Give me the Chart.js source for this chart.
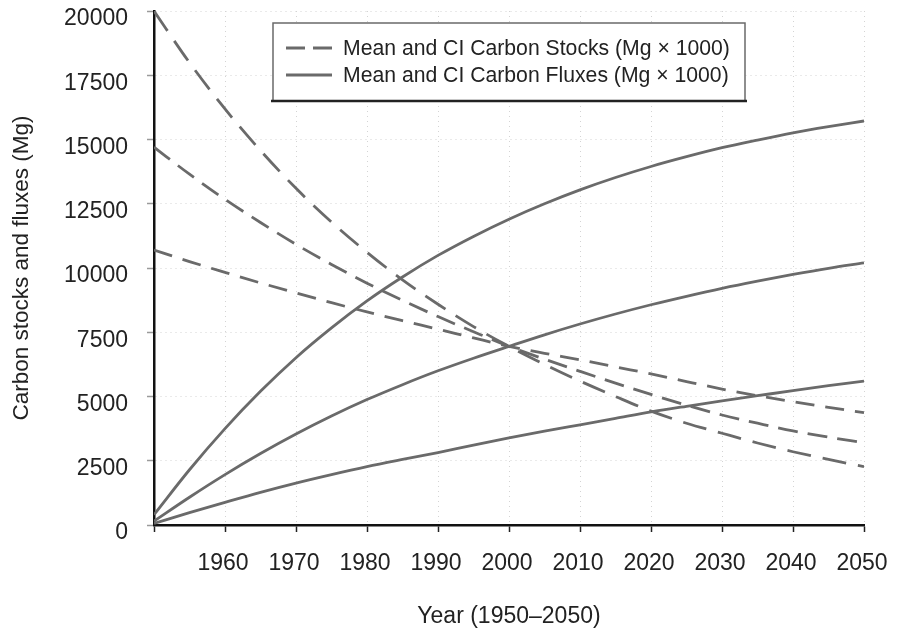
<!DOCTYPE html>
<html>
<head>
<meta charset="utf-8">
<script src="https://cdn.jsdelivr.net/npm/chart.js@4/dist/chart.umd.min.js"></script>
<style>
  html, body { margin: 0; padding: 0; background: #ffffff; }
  #wrap { width: 898px; height: 635px; }
</style>
</head>
<body>
<div id="wrap"><canvas id="c" width="898" height="635"></canvas></div>
<script>
// ---- Data ----
const years = [1950, 1955, 1960, 1965, 1970, 1975, 1980, 1985, 1990, 1995, 2000,
               2005, 2010, 2015, 2020, 2025, 2030, 2035, 2040, 2045, 2050];

// Carbon stocks (dashed): upper CI, mean, lower CI
const stocksUpper = [20000, 17990, 16190, 14570, 13100, 11790, 10610, 9540, 8590, 7720, 6950,
                     6250, 5600, 5000, 4430, 3960, 3570, 3190, 2850, 2550, 2270];
const stocksMean  = [14700, 13650, 12670, 11770, 10920, 10140, 9410, 8740, 8110, 7520, 6950,
                     6450, 5980, 5520, 5080, 4660, 4280, 3960, 3660, 3420, 3200];
const stocksLower = [10700, 10250, 9830, 9420, 9030, 8650, 8290, 7950, 7620, 7280, 6950,
                     6680, 6430, 6150, 5880, 5580, 5290, 5030, 4800, 4580, 4370];

// Carbon fluxes (solid): upper CI, mean, lower CI
const fluxesUpper = [400, 2150, 3750, 5200, 6510, 7670, 8720, 9650, 10490, 11230, 11900,
                     12500, 13040, 13520, 13950, 14330, 14680, 14980, 15260, 15500, 15720];
const fluxesMean  = [150, 1080, 1960, 2780, 3540, 4240, 4880, 5460, 6000, 6490, 6950,
                     7400, 7820, 8210, 8570, 8900, 9210, 9490, 9750, 9990, 10200];
const fluxesLower = [60, 480, 880, 1270, 1630, 1960, 2270, 2550, 2820, 3110, 3390,
                     3650, 3900, 4150, 4400, 4620, 4830, 5030, 5230, 5420, 5600];

const legendLabels = ['Mean and CI Carbon Stocks (Mg \u00d7 1000)',
                      'Mean and CI Carbon Fluxes (Mg \u00d7 1000)'];
const xTitle = 'Year (1950\u20132050)';
const yTitle = 'Carbon stocks and fluxes (Mg)';
const xMin = 1950, xMax = 2050, xStep = 10;
const yMin = 0, yMax = 20000, yStep = 2500;

// ---- Styles ----
const LINE_COLOR = '#6a6a6a';
const TEXT_COLOR = '#222222';
const FONT = "'Liberation Sans', Arial, Helvetica, sans-serif";

function pts(vals) { return years.map((yr, i) => ({ x: yr, y: vals[i] })); }

function ds(vals, dash, group) {
  return {
    data: pts(vals),
    borderColor: LINE_COLOR,
    borderWidth: 2.8,
    borderDash: dash,
    pointRadius: 0,
    fill: false,
    cubicInterpolationMode: 'monotone',
    group: group
  };
}

const datasets = [
  ds(stocksUpper, [24, 12], 0),
  ds(stocksMean,  [20, 10], 0),
  ds(stocksLower, [19, 11], 0),
  ds(fluxesUpper, [], 1),
  ds(fluxesMean,  [], 1),
  ds(fluxesLower, [], 1)
];

// Boxed legend drawn inside the plot area
const boxLegend = {
  id: 'boxLegend',
  afterDraw(chart) {
    const ctx = chart.ctx;
    const L = 273, T = 23, R = 745, B = 101;
    ctx.save();
    ctx.fillStyle = '#ffffff';
    ctx.fillRect(L, T, R - L, B - T);
    ctx.strokeStyle = '#6a6a6a';
    ctx.lineWidth = 1.5;
    ctx.beginPath();
    ctx.moveTo(L, B); ctx.lineTo(L, T); ctx.lineTo(R, T); ctx.lineTo(R, B);
    ctx.stroke();
    ctx.strokeStyle = '#222222';
    ctx.lineWidth = 2.5;
    ctx.beginPath();
    ctx.moveTo(L - 2, B); ctx.lineTo(R + 2, B);
    ctx.stroke();

    const rows = [48, 75];
    const sampleDash = [[19, 8], []];
    legendLabels.forEach((txt, i) => {
      const d = chart.data.datasets.find(s => s.group === i);
      ctx.strokeStyle = d.borderColor;
      ctx.lineWidth = d.borderWidth;
      ctx.setLineDash(sampleDash[i]);
      ctx.beginPath();
      ctx.moveTo(286, rows[i]);
      ctx.lineTo(332, rows[i]);
      ctx.stroke();
      ctx.setLineDash([]);
      ctx.fillStyle = TEXT_COLOR;
      ctx.font = "21.2px " + FONT;
      ctx.textBaseline = 'middle';
      ctx.textAlign = 'left';
      ctx.fillText(txt, 343, rows[i] + 1);
    });
    ctx.restore();
  }
};

new Chart(document.getElementById('c'), {
  type: 'line',
  data: { datasets },
  plugins: [boxLegend],
  options: {
    responsive: false,
    animation: false,
    devicePixelRatio: 1,
    layout: { padding: { left: 0, top: 11, right: 34, bottom: 0 } },
    plugins: { legend: { display: false }, tooltip: { enabled: false } },
    scales: {
      x: {
        type: 'linear',
        min: xMin, max: xMax,
        afterFit(s) { s.height = 110; s.paddingLeft = 0; s.paddingRight = 0; },
        ticks: {
          stepSize: xStep,
          autoSkip: false,
          maxRotation: 0,
          padding: 18,
          labelOffset: -2,
          color: TEXT_COLOR,
          font: { family: FONT, size: 23 },
          callback: v => (v === xMin ? '' : String(v))
        },
        grid: {
          color: '#d4d4d4',
          lineWidth: 1,
          tickLength: 7,
          tickColor: '#222222',
          tickWidth: 1.5
        },
        border: { color: '#111111', width: 2.5, dash: [1, 4] },
        title: {
          display: true,
          text: xTitle,
          color: TEXT_COLOR,
          font: { family: FONT, size: 23 },
          padding: { top: 0, bottom: 5 }
        }
      },
      y: {
        type: 'linear',
        min: yMin, max: yMax,
        afterFit(s) { s.width = 154; s.paddingTop = 0; s.paddingBottom = 0; },
        ticks: {
          stepSize: yStep,
          padding: 19,
          labelOffset: 8,
          color: TEXT_COLOR,
          font: { family: FONT, size: 23 },
          callback: v => String(v)
        },
        grid: {
          color: '#d4d4d4',
          lineWidth: 1,
          tickLength: 7,
          tickColor: '#9a9a9a',
          tickWidth: 1.5
        },
        border: { color: '#111111', width: 2.5, dash: [1, 4] },
        title: {
          display: true,
          text: yTitle,
          color: TEXT_COLOR,
          font: { family: FONT, size: 22.5 },
          padding: { top: 8, bottom: 0 }
        }
      }
    }
  }
});
</script>
</body>
</html>
